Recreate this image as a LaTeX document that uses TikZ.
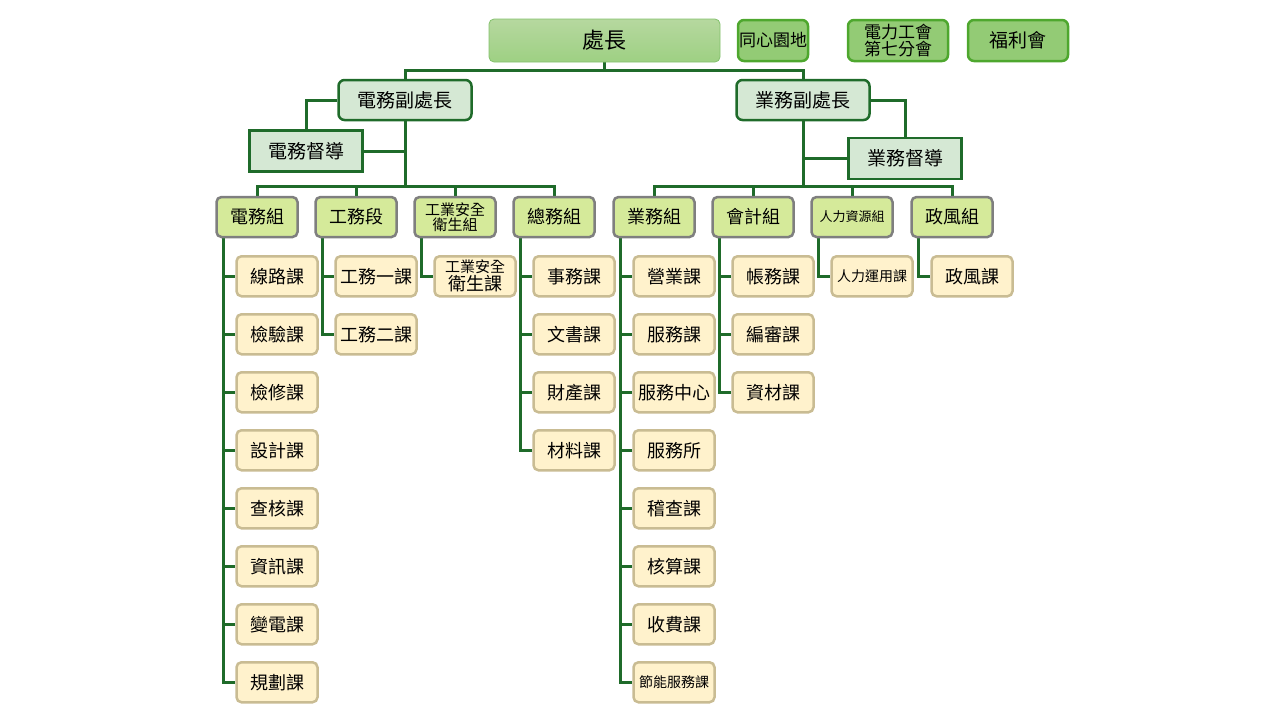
\documentclass[tikz,border=0pt]{standalone}
\usepackage{fontspec}
\setmainfont{Noto Sans CJK TC}
\usetikzlibrary{backgrounds}
\definecolor{lnk}{HTML}{1F6B2A}
\definecolor{topf}{HTML}{A9D18E}
\definecolor{sidef}{HTML}{93CB75}
\definecolor{sideb}{HTML}{4EA72E}
\definecolor{vpf}{HTML}{D5E8D4}
\definecolor{grpf}{HTML}{D5EA9A}
\definecolor{grpb}{HTML}{7F7F7F}
\definecolor{chf}{HTML}{FFF2CC}
\definecolor{chb}{HTML}{C9BC93}
\newcommand{\fsz}[1]{\fontsize{#1}{#1}\selectfont}
\tikzset{
 x=1pt,y=-1pt,
 lk/.style={draw=lnk,line width=3pt},
 topbox/.style={draw=sideb!70,line width=0.8pt,rounded corners=5pt,top color=topf!85,bottom color=sidef!90,minimum width=231pt,minimum height=43pt,font=\fsz{22}},
 sidebox/.style={draw=sideb,line width=2.5pt,rounded corners=6pt,fill=sidef,minimum width=70pt,minimum height=41pt,inner sep=1pt,font=\fsz{17},align=center},
 vpbox/.style={draw=lnk,line width=2.5pt,rounded corners=6pt,fill=vpf,minimum width=133pt,minimum height=40pt,font=\fsz{19}},
 supbox/.style={draw=lnk,line width=2.5pt,fill=vpf,minimum width=113pt,minimum height=41pt,font=\fsz{19}},
 grpbox/.style={draw=grpb,line width=2.5pt,rounded corners=5pt,fill=grpf,minimum width=81pt,minimum height=40pt,inner sep=1pt,align=center},
 chbox/.style={draw=chb,line width=2.5pt,rounded corners=5pt,fill=chf,minimum width=81pt,minimum height=40pt,inner sep=1pt,align=center,font=\fsz{18}},
}
\begin{document}
\begin{tikzpicture}
\useasboundingbox (0,0) rectangle (1280,720);
\node[topbox] (top) at (604.5,40.5) {處長};
\node[sidebox] (s1) at (773,40.5) {同心園地};
\node[sidebox,minimum width=100pt,font=\fsz{17}] (s2) at (898,40.5) {電力工會\\第七分會};
\node[sidebox,minimum width=100pt,font=\fsz{19}] (s3) at (1018,40.5) {福利會};
\node[vpbox] (vp1) at (405,100) {電務副處長};
\node[vpbox] (vp2) at (803,100) {業務副處長};
\node[supbox] (su1) at (306,151) {電務督導};
\node[supbox] (su2) at (905,158.5) {業務督導};
\foreach \n/\x/\t/\f in {g1/257/電務組/18,g2/356/工務段/18,g3/455/工業安全\\衛生組/15,g4/554/總務組/18,g5/654/業務組/18,g6/753/會計組/18,g7/852/人力資源組/13,g8/952/政風組/18}
  \node[grpbox,font=\fsz{\f}] (\n) at (\x,217) {\t};
\foreach \g/\list in {g1/{線路課,檢驗課,檢修課,設計課,查核課,資訊課,變電課,規劃課},g2/{工務一課,工務二課},g3/{{\fsz{15}工業安全\\衛生課}},g4/{事務課,文書課,財產課,材料課},g5/{營業課,服務課,服務中心,服務所,稽查課,核算課,收費課,{\fsz{14}節能服務課}},g6/{帳務課,編審課,資材課},g7/{{\fsz{14}人力運用課}},g8/{政風課}}{
  \foreach \t [count=\i] in \list {
    \node[chbox] (\g c\i) at ([xshift=20pt]\g.south) [yshift=-38pt-(\i-1)*58pt] {\t};
    \begin{scope}[on background layer]
    \draw[lk] ([xshift=8pt]\g.south west) |- (\g c\i.west);
    \end{scope}
  }
}
\begin{scope}[on background layer]
\coordinate (b0) at (604.5,70);
\draw[lk] (top.south) -- (b0);
\draw[lk] (vp1.north) |- (b0) -| (vp2.north);
\draw[lk] (vp1.west) -| (su1.north);
\draw[lk] (vp2.east) -| (su2.north);
\coordinate (b1) at (405,186);
\coordinate (b2) at (803,186);
\draw[lk] (vp1.south) -- (b1);
\draw[lk] (vp2.south) -- (b2);
\draw[lk] (su1.east) -- (su1.east -| b1);
\draw[lk] (su2.west) -- (su2.west -| b2);
\draw[lk] (g1.north) |- (b1) -| (g4.north);
\draw[lk] (g2.north) |- (b1) -| (g3.north);
\draw[lk] (g5.north) |- (b2) -| (g8.north);
\draw[lk] (g6.north) |- (b2) -| (g7.north);
\end{scope}
\end{tikzpicture}
\end{document}
